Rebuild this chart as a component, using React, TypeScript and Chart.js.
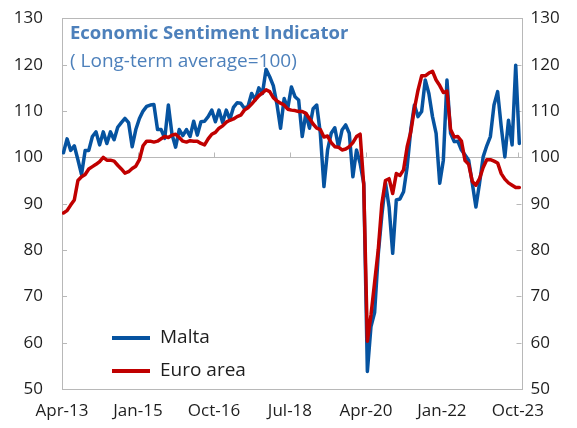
import React, { useEffect, useRef } from 'react';
import { Chart, registerables } from 'chart.js';

Chart.register(...registerables);

// Monthly data, Apr-13 .. Oct-23 (points plotted mid-month)
const MID_MONTH = 0.4;
const TICK_STEP = 21; // months between axis labels
const tickLabels = ['Apr-13', 'Jan-15', 'Oct-16', 'Jul-18', 'Apr-20', 'Jan-22', 'Oct-23'];
const yTickValues = [50, 60, 70, 80, 90, 100, 110, 120, 130];
const Y_MIN = 50;
const Y_MAX = 130;
const BASELINE = 100;

const malta = [
  101, 104, 101.5, 102.5, 99.5, 96.3, 101.5, 101.5, 104.5, 105.5,
  102.7, 105.5, 103, 105.5, 103.8, 106.5, 107.5, 108.4, 107.5, 102.3,
  106, 108.4, 110, 111, 111.3, 111.4, 106, 106, 104.1, 111.3,
  105, 102.2, 106, 104.7, 106, 104.5, 107.8, 104.8, 107.7, 107.8,
  108.8, 110.2, 107.7, 110.2, 107.5, 110.2, 108.2, 110.8, 111.8, 111.7,
  110.6, 111, 113.8, 112.4, 115, 113.8, 119, 117.4, 115.5, 111.5,
  106.3, 112.7, 110.6, 115.2, 113.1, 112.4, 104.5, 109.5, 106.3, 110.5,
  111.3, 105.2, 93.7, 101.6, 105.2, 106.4, 102.3, 105.9, 107, 105.2,
  95.8, 101.6, 98.7, 94.4, 53.8, 63.5, 66.5, 79, 87.5, 94.5,
  89.3, 79.3, 90.8, 91, 92.6, 98, 106, 111.3, 108.8, 109.9,
  116.7, 113.8, 108.8, 105.2, 94.4, 99.4, 116.7, 105.2, 103.4, 103.5,
  101.6, 100.5, 99.4, 94.4, 89.3, 94.4, 100.1, 102.5, 104.5, 111.3,
  114.2, 106.6, 100.1, 108, 102.7, 119.9, 103,
];

const euroArea = [
  88, 88.5, 89.7, 90.8, 95, 95.8, 96.3, 97.5, 98, 98.5,
  99.1, 100, 99.4, 99.4, 99.2, 98.3, 97.5, 96.6, 96.9, 97.6,
  98.1, 99.5, 102.5, 103.5, 103.5, 103.3, 103.5, 104, 104.5, 104.3,
  104.8, 105, 104.3, 103.5, 103.3, 103.6, 103.5, 103.5, 103, 102.7,
  104, 105, 105.4, 106.3, 106.8, 107.6, 108, 108.3, 108.8, 109.1,
  110.2, 110.7, 111.5, 112.4, 113.3, 113.9, 114.6, 114.2, 112.9, 112.2,
  111.7, 111.3, 110.4, 110.2, 110.1, 109.9, 109.9, 109.5, 108.4, 107.2,
  106.3, 106, 104.4, 104.6, 103.2, 102.3, 102.2, 101.6, 101.8, 102.3,
  103.2, 104.5, 105, 94, 60.3, 66, 73, 80, 90, 95,
  95.4, 92.2, 96.5, 96.1, 97.3, 102.3, 105.5, 110.5, 114.5, 117.6,
  117.6, 118.2, 118.6, 116.7, 115.5, 114, 114.3, 106, 104.4, 104.5,
  103.5, 99.3, 98.5, 94.8, 94, 95.4, 97.8, 99.5, 99.5, 99.2,
  98.8, 96.5, 95.3, 94.5, 94, 93.5, 93.5,
];

const seriesNames = ['Malta', 'Euro area'];
const seriesColors = ['#0653a0', '#c00000'];
const titleText = 'Economic Sentiment Indicator';
const subtitleText = '( Long-term average=100)';

const FONT = '"Open Sans", "Noto Sans", sans-serif';
const TEXT_COLOR = '#1e1e1e';
const GRID_COLOR = '#b8b8b8';
const TITLE_COLOR = '#4d80bb';

const toPoints = (arr: number[]) => arr.map((v, i) => ({ x: i + MID_MONTH, y: v }));

const noVerticalPadding = (scale: any, width: number) => {
  scale.width = width;
  scale.paddingTop = 0;
  scale.paddingBottom = 0;
};

const decorPlugin = {
  id: 'decor',
  beforeDatasetsDraw(chart: any) {
    const { ctx, chartArea } = chart;
    const { left, right, top, bottom } = chartArea;
    const x = chart.scales.x;
    const y = chart.scales.y;
    const yb = Math.round(y.getPixelForValue(BASELINE)) + 0.5;
    ctx.save();
    ctx.strokeStyle = GRID_COLOR;
    ctx.lineWidth = 1;
    ctx.beginPath();
    ctx.moveTo(left, yb);
    ctx.lineTo(right, yb);
    ctx.stroke();
    tickLabels.forEach((_, i) => {
      const px = Math.round(x.getPixelForValue(i * TICK_STEP)) + 0.5;
      ctx.beginPath();
      ctx.moveTo(px, yb);
      ctx.lineTo(px, yb - 5);
      ctx.stroke();
    });
    yTickValues.forEach((v) => {
      const py = Math.round(y.getPixelForValue(v)) + 0.5;
      ctx.beginPath();
      ctx.moveTo(left, py);
      ctx.lineTo(left + 5, py);
      ctx.moveTo(right, py);
      ctx.lineTo(right - 5, py);
      ctx.stroke();
    });
    ctx.strokeRect(Math.round(left) + 0.5, Math.round(top) + 0.5, Math.round(right - left), Math.round(bottom - top));
    ctx.restore();
  },
  afterDraw(chart: any) {
    const { ctx, chartArea } = chart;
    const { left, bottom, top } = chartArea;
    ctx.save();
    ctx.textBaseline = 'middle';
    ctx.textAlign = 'left';
    ctx.fillStyle = TITLE_COLOR;
    ctx.font = `bold 18.5px ${FONT}`;
    ctx.fillText(titleText, left + 8, top + 15);
    ctx.font = `19px ${FONT}`;
    ctx.fillText(subtitleText, left + 8, top + 43);
    const rows = [bottom - 51, bottom - 18];
    seriesNames.forEach((name, i) => {
      const ly = rows[i];
      ctx.strokeStyle = seriesColors[i];
      ctx.lineWidth = 4;
      ctx.beginPath();
      ctx.moveTo(left + 50, ly);
      ctx.lineTo(left + 88, ly);
      ctx.stroke();
      ctx.fillStyle = TEXT_COLOR;
      ctx.font = `19px ${FONT}`;
      ctx.fillText(name, left + 98, ly);
    });
    ctx.restore();
  },
};

export default function App() {
  const ref = useRef<HTMLCanvasElement | null>(null);
  useEffect(() => {
    if (!ref.current) return;
    const chart = new Chart(ref.current, {
      type: 'line',
      data: {
        datasets: [
          {
            label: seriesNames[1],
            data: toPoints(euroArea),
            borderColor: seriesColors[1],
            borderWidth: 3.5,
            pointRadius: 0,
            tension: 0,
            borderJoinStyle: 'round',
            borderCapStyle: 'round',
          },
          {
            label: seriesNames[0],
            data: toPoints(malta),
            borderColor: seriesColors[0],
            borderWidth: 3.5,
            pointRadius: 0,
            tension: 0,
            borderJoinStyle: 'round',
            borderCapStyle: 'round',
          },
        ],
      },
      options: {
        responsive: false,
        animation: false,
        devicePixelRatio: 1,
        layout: { padding: { top: 18.4, left: 0, right: 0, bottom: 0 } },
        plugins: { legend: { display: false }, title: { display: false }, tooltip: { enabled: false } },
        scales: {
          x: {
            type: 'linear',
            min: 0,
            max: 127,
            grid: { display: false, drawTicks: false },
            border: { display: false },
            afterBuildTicks: (scale: any) => {
              scale.ticks = tickLabels.map((_, i) => ({ value: i * TICK_STEP }));
            },
            afterFit: (scale: any) => {
              scale.height = 39;
              scale.paddingLeft = 0;
              scale.paddingRight = 0;
            },
            ticks: {
              autoSkip: false,
              maxRotation: 0,
              padding: 12,
              color: TEXT_COLOR,
              font: { family: FONT, size: 17 },
              callback: (_v: any, i: number) => tickLabels[i],
            },
          },
          y: {
            position: 'left',
            min: Y_MIN,
            max: Y_MAX,
            grid: { display: false, drawTicks: false },
            border: { display: false },
            afterFit: (scale: any) => noVerticalPadding(scale, 62),
            ticks: {
              stepSize: 10,
              padding: 19,
              color: TEXT_COLOR,
              font: { family: FONT, size: 17 },
            },
          },
          y2: {
            position: 'right',
            min: Y_MIN,
            max: Y_MAX,
            grid: { display: false, drawTicks: false },
            border: { display: false },
            afterFit: (scale: any) => noVerticalPadding(scale, 55.5),
            ticks: {
              stepSize: 10,
              padding: 9,
              color: TEXT_COLOR,
              font: { family: FONT, size: 17 },
            },
          },
        },
      },
      plugins: [decorPlugin],
    } as any);
    return () => chart.destroy();
  }, []);
  return (
    <div style={{ position: 'absolute', left: 0, top: 0, width: 577, height: 428 }}>
      <canvas ref={ref} width={577} height={428} />
    </div>
  );
}
